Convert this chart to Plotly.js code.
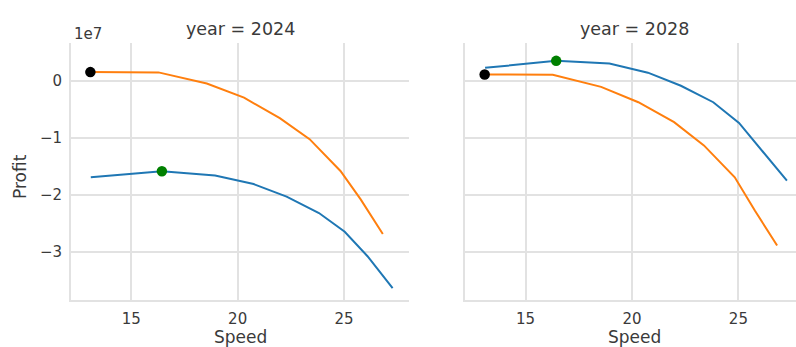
<!DOCTYPE html>
<html>
<head>
<meta charset="utf-8">
<script src="https://cdn.plot.ly/plotly-3.0.1.min.js"></script>
<style>
html,body{margin:0;padding:0;overflow:hidden;background:#fff;}
#chart{width:810px;height:347px;}
</style>
</head>
<body>
<div id="chart"></div>
<script>
// ---- data ----
const years = ["2024", "2028"];
const speedBlue   = [13.1, 16.44, 18.94, 20.75, 22.3, 23.82, 25.03, 26.1, 27.28];
const speedOrange = [13.08, 16.28, 18.55, 20.3, 21.98, 23.38, 24.83, 25.78, 26.82];
const profitBlue2024   = [-1.69e7, -1.585e7, -1.66e7, -1.81e7, -2.03e7, -2.32e7, -2.65e7, -3.08e7, -3.64e7];
const profitOrange2024 = [0.16e7, 0.155e7, -0.04e7, -0.29e7, -0.65e7, -1.02e7, -1.58e7, -2.08e7, -2.69e7];
const profitBlue2028   = [0.235e7, 0.358e7, 0.31e7, 0.15e7, -0.08e7, -0.37e7, -0.735e7, -1.22e7, -1.75e7];
const profitOrange2028 = [0.118e7, 0.115e7, -0.10e7, -0.37e7, -0.72e7, -1.13e7, -1.69e7, -2.28e7, -2.89e7];
const xTickVals = [15, 20, 25];
const xTickText = ["15", "20", "25"];
const yTickVals = [-3e7, -2e7, -1e7, 0];
const yTickText = ["\u22123", "\u22122", "\u22121", "0"];

// ---- layout helpers ----
const W = 810, H = 347;
const px = v => v / W;
const py = v => 1 - v / H;
const argmax = a => a.reduce((bi, v, i) => v > a[bi] ? i : bi, 0);

const blue = "#1f77b4", orange = "#ff7f0e";
const series = [
  {b: profitBlue2024, o: profitOrange2024, xa: "x", ya: "y"},
  {b: profitBlue2028, o: profitOrange2028, xa: "x2", ya: "y2"}
];
const traces = [];
series.forEach(s => {
  traces.push({x: speedBlue, y: s.b, xaxis: s.xa, yaxis: s.ya, mode: "lines",
    line: {color: blue, width: 2}, hoverinfo: "skip"});
  traces.push({x: speedOrange, y: s.o, xaxis: s.xa, yaxis: s.ya, mode: "lines",
    line: {color: orange, width: 2}, hoverinfo: "skip"});
  const ib = argmax(s.b), io = argmax(s.o);
  traces.push({x: [speedOrange[io]], y: [s.o[io]], xaxis: s.xa, yaxis: s.ya, mode: "markers",
    marker: {color: "black", size: 10.5}, hoverinfo: "skip"});
  traces.push({x: [speedBlue[ib]], y: [s.b[ib]], xaxis: s.xa, yaxis: s.ya, mode: "markers",
    marker: {color: "green", size: 10.5}, hoverinfo: "skip"});
});

const font = {family: "DejaVu Sans, sans-serif", size: 15, color: "#3a3a3a"};
const bigFont = {family: "DejaVu Sans, sans-serif", size: 17, color: "#3a3a3a"};
const gridc = "#e2e2e2";
const xBase = {range: [12.17, 28.05], tickvals: xTickVals, ticktext: xTickText,
  showgrid: true, gridcolor: gridc, gridwidth: 2, zeroline: false,
  showline: true, linecolor: gridc, linewidth: 2, ticks: "", ticklabelstandoff: 4,
  tickfont: font, fixedrange: true};
const yBase = {range: [-3.85e7, 0.667e7], tickvals: yTickVals, ticktext: yTickText,
  showgrid: true, gridcolor: gridc, gridwidth: 2, zeroline: false,
  showline: true, linecolor: gridc, linewidth: 2, ticks: "", ticklabelstandoff: 4,
  tickfont: font, fixedrange: true};

const yTop = py(43.3), yBot = py(300);
const layout = {
  width: W, height: H,
  margin: {l: 0, r: 0, t: 0, b: 0},
  paper_bgcolor: "#fff", plot_bgcolor: "#fff",
  showlegend: false,
  font: font,
  xaxis: Object.assign({}, xBase, {domain: [px(71), px(409)], anchor: "y"}),
  yaxis: Object.assign({}, yBase, {domain: [yBot, yTop], anchor: "x"}),
  xaxis2: Object.assign({}, xBase, {domain: [px(465.3), px(803.3)], anchor: "y2"}),
  yaxis2: Object.assign({}, yBase, {domain: [yBot, yTop], anchor: "x2", matches: "y", showticklabels: false}),
  annotations: [
    {text: "year = " + years[0], xref: "paper", yref: "paper", x: px(240), y: py(29),
     xanchor: "center", yanchor: "middle", showarrow: false, font: {family: font.family, size: 17.5, color: "#3a3a3a"}},
    {text: "year = " + years[1], xref: "paper", yref: "paper", x: px(634), y: py(29),
     xanchor: "center", yanchor: "middle", showarrow: false, font: {family: font.family, size: 17.5, color: "#3a3a3a"}},
    {text: "1e7", xref: "paper", yref: "paper", x: px(72), y: py(34),
     xanchor: "left", yanchor: "middle", showarrow: false, font: font},
    {text: "Profit", xref: "paper", yref: "paper", x: px(20), y: py(177), textangle: -90,
     xanchor: "center", yanchor: "middle", showarrow: false, font: bigFont},
    {text: "Speed", xref: "paper", yref: "paper", x: px(240), y: py(337),
     xanchor: "center", yanchor: "middle", showarrow: false, font: bigFont},
    {text: "Speed", xref: "paper", yref: "paper", x: px(634), y: py(337),
     xanchor: "center", yanchor: "middle", showarrow: false, font: bigFont}
  ]
};

Plotly.newPlot("chart", traces, layout, {displayModeBar: false, staticPlot: true});
</script>
</body>
</html>
